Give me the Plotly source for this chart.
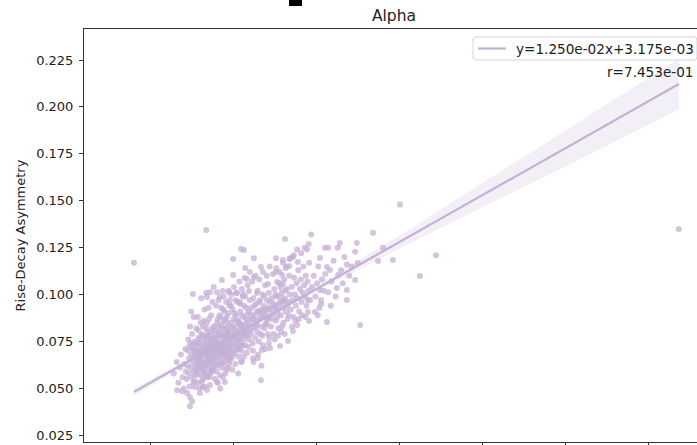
import plotly.graph_objects as go

# Alpha band: per-recording rise/decay measurements (x = band metric, y = asymmetry)
tail_pts = [
    (4.63, 0.049), (4.75, 0.0485), (4.87, 0.0475), (4.94, 0.0454), (4.99, 0.0432), (4.94, 0.0405),
    (5.06, 0.0507), (5.25, 0.0507), (5.42, 0.0518), (5.59, 0.0534), (5.78, 0.0534), (5.18, 0.0475),
    (5.35, 0.0491), (5.54, 0.055), (5.35, 0.056), (6.65, 0.0544),
    (4.55, 0.058), (4.62, 0.064), (4.66, 0.053), (4.70, 0.061), (4.72, 0.068), (4.76, 0.056),
    (4.79, 0.050), (4.80, 0.063), (4.83, 0.071), (4.84, 0.059),
]

core_left = [
    (4.86, 0.055), (4.88, 0.062), (4.89, 0.070), (4.91, 0.058), (4.92, 0.066), (4.93, 0.051),
    (4.95, 0.074), (4.96, 0.061), (4.97, 0.068), (4.98, 0.056), (4.99, 0.079), (5.00, 0.064),
    (5.01, 0.071), (5.02, 0.053), (5.03, 0.059), (5.04, 0.067), (5.05, 0.075), (5.06, 0.062),
    (5.07, 0.057), (5.08, 0.069), (5.09, 0.082), (5.10, 0.065), (4.90, 0.076), (4.94, 0.083),
    (5.03, 0.088), (4.97, 0.091), (5.08, 0.060), (4.99, 0.073), (5.05, 0.054), (4.92, 0.072),
    (5.11, 0.058), (5.12, 0.072), (5.13, 0.066), (5.14, 0.081), (5.15, 0.053), (5.16, 0.062),
    (5.17, 0.076), (5.18, 0.069), (5.19, 0.057), (5.20, 0.085), (5.21, 0.064), (5.22, 0.073),
    (5.23, 0.060), (5.24, 0.078), (5.25, 0.067), (5.26, 0.055), (5.27, 0.071), (5.28, 0.063),
    (5.29, 0.092), (5.30, 0.075), (5.31, 0.059), (5.32, 0.068), (5.33, 0.082), (5.34, 0.065),
    (5.35, 0.072), (5.36, 0.057), (5.37, 0.077), (5.38, 0.061), (5.39, 0.070), (5.40, 0.087),
    (5.41, 0.066), (5.42, 0.074), (5.43, 0.058), (5.44, 0.080), (5.45, 0.069), (5.46, 0.063),
    (5.47, 0.076), (5.48, 0.096), (5.49, 0.071), (5.50, 0.060), (5.51, 0.083), (5.52, 0.067),
    (5.53, 0.073), (5.54, 0.079),
    (5.12, 0.063), (5.14, 0.070), (5.16, 0.074), (5.18, 0.061), (5.20, 0.067), (5.22, 0.079),
    (5.24, 0.071), (5.26, 0.063), (5.28, 0.077), (5.30, 0.069), (5.32, 0.062), (5.34, 0.074),
    (5.36, 0.080), (5.38, 0.067), (5.40, 0.072), (5.42, 0.064), (5.44, 0.075), (5.46, 0.070),
    (5.48, 0.082), (5.50, 0.066), (5.52, 0.077), (5.54, 0.071), (5.13, 0.088), (5.21, 0.098),
    (5.27, 0.086), (5.33, 0.101), (5.39, 0.093), (5.45, 0.089), (5.51, 0.104), (5.17, 0.050),
    (5.23, 0.054), (5.29, 0.051), (5.41, 0.056), (5.47, 0.059), (5.53, 0.062), (5.15, 0.077),
    (5.25, 0.083), (5.35, 0.085), (5.43, 0.068), (5.49, 0.065),
    (5.01, 0.1003), (5.35, 0.0987), (5.42, 0.1013), (5.59, 0.1013), (5.73, 0.1019), (5.88, 0.1013),
]

core_dense = [
    (5.05, 0.070), (5.09, 0.074), (5.13, 0.060), (5.17, 0.066), (5.21, 0.070), (5.25, 0.061),
    (5.29, 0.072), (5.33, 0.064), (5.37, 0.069), (5.41, 0.078), (5.45, 0.060), (5.49, 0.076),
    (5.53, 0.068), (5.57, 0.064), (5.61, 0.073), (5.65, 0.079), (5.69, 0.069), (5.73, 0.063),
    (5.77, 0.074), (5.81, 0.069), (5.85, 0.076), (5.89, 0.072), (5.93, 0.076), (5.97, 0.069),
    (6.01, 0.080), (6.05, 0.074), (6.09, 0.071), (6.13, 0.077), (6.17, 0.083), (6.21, 0.073),
    (5.11, 0.068), (5.19, 0.064), (5.27, 0.058), (5.35, 0.078), (5.43, 0.071), (5.51, 0.073),
    (5.59, 0.070), (5.67, 0.072), (5.75, 0.068), (5.83, 0.078), (5.91, 0.067), (5.99, 0.078),
    (6.07, 0.086), (6.15, 0.084), (6.23, 0.080), (6.31, 0.082), (6.39, 0.081), (6.47, 0.087),
    (6.55, 0.084), (6.63, 0.090), (6.71, 0.091), (6.79, 0.088), (6.87, 0.092), (6.95, 0.095),
    (7.03, 0.093), (7.11, 0.099), (7.19, 0.097),
]

core_mid = [
    (5.55, 0.066), (5.56, 0.081), (5.57, 0.072), (5.58, 0.059), (5.59, 0.076), (5.60, 0.068),
    (5.61, 0.087), (5.62, 0.063), (5.63, 0.074), (5.64, 0.080), (5.65, 0.070), (5.66, 0.057),
    (5.67, 0.078), (5.68, 0.066), (5.69, 0.084), (5.70, 0.073), (5.71, 0.061), (5.72, 0.079),
    (5.73, 0.069), (5.74, 0.092), (5.75, 0.075), (5.76, 0.064), (5.77, 0.082), (5.78, 0.071),
    (5.79, 0.087), (5.80, 0.067), (5.81, 0.077), (5.82, 0.060), (5.83, 0.085), (5.84, 0.073),
    (5.85, 0.080), (5.86, 0.069), (5.87, 0.090), (5.88, 0.076), (5.89, 0.065), (5.90, 0.083),
    (5.56, 0.070), (5.58, 0.077), (5.60, 0.062), (5.62, 0.083), (5.64, 0.067), (5.66, 0.074),
    (5.68, 0.088), (5.70, 0.064), (5.72, 0.071), (5.74, 0.077), (5.76, 0.086), (5.78, 0.068),
    (5.80, 0.079), (5.82, 0.072), (5.84, 0.066), (5.86, 0.081), (5.88, 0.070), (5.90, 0.075),
    (5.57, 0.094), (5.63, 0.097), (5.69, 0.093), (5.75, 0.099), (5.81, 0.096), (5.87, 0.102),
    (5.61, 0.053), (5.67, 0.050), (5.73, 0.056), (5.79, 0.058), (5.85, 0.061), (5.59, 0.085),
    (5.65, 0.089), (5.71, 0.082), (5.77, 0.091), (5.83, 0.088), (5.89, 0.094), (5.55, 0.075),
    (5.64, 0.071), (5.73, 0.078), (5.82, 0.082), (5.88, 0.063),
    (5.91, 0.071), (5.93, 0.085), (5.94, 0.066), (5.96, 0.078), (5.97, 0.092), (5.99, 0.074),
    (6.00, 0.068), (6.02, 0.083), (6.03, 0.077), (6.05, 0.089), (6.06, 0.072), (6.08, 0.096),
    (6.09, 0.080), (6.11, 0.067), (6.12, 0.086), (6.14, 0.075), (6.15, 0.091), (6.17, 0.079),
    (6.18, 0.070), (6.20, 0.084), (6.21, 0.099), (6.23, 0.076), (6.24, 0.088), (6.26, 0.081),
    (6.27, 0.073), (6.29, 0.093), (6.30, 0.085), (6.32, 0.078), (6.33, 0.090), (6.35, 0.072),
    (6.36, 0.083), (6.38, 0.097), (6.39, 0.087),
    (5.92, 0.079), (5.95, 0.072), (5.98, 0.082), (6.01, 0.090), (6.04, 0.070), (6.07, 0.079),
    (6.10, 0.085), (6.13, 0.081), (6.16, 0.073), (6.19, 0.089), (6.22, 0.082), (6.25, 0.094),
    (6.28, 0.079), (6.31, 0.087), (6.34, 0.081), (6.37, 0.091), (5.94, 0.100), (6.00, 0.104),
    (6.06, 0.101), (6.13, 0.107), (6.19, 0.103), (6.26, 0.109), (6.33, 0.105), (6.38, 0.112),
    (5.96, 0.060), (6.03, 0.063), (6.10, 0.058), (6.17, 0.064), (6.24, 0.067), (6.31, 0.069),
    (5.99, 0.087), (6.08, 0.076), (6.15, 0.095), (6.21, 0.078), (6.29, 0.084), (6.36, 0.076),
    (5.93, 0.094), (6.04, 0.097), (6.12, 0.071), (6.27, 0.099),
    (5.98, 0.1189), (6.17, 0.1243), (6.24, 0.1237), (6.48, 0.1194), (6.27, 0.1141), (6.65, 0.1147),
    (5.71, 0.1077), (5.98, 0.1104), (6.31, 0.1083), (6.48, 0.1093), (6.07, 0.1008), (6.22, 0.1003),
    (6.36, 0.1019), (6.55, 0.1008), (5.66, 0.0987), (5.90, 0.0971), (6.14, 0.096), (5.33, 0.1344),
    (6.19, 0.0645), (6.46, 0.0661), (6.67, 0.0704), (6.87, 0.0715), (7.11, 0.0726), (7.30, 0.0752),
    (7.42, 0.0806), (7.52, 0.0838),
]

core_right = [
    (6.41, 0.079), (6.42, 0.093), (6.44, 0.085), (6.45, 0.074), (6.47, 0.098), (6.48, 0.082),
    (6.50, 0.089), (6.51, 0.077), (6.53, 0.095), (6.54, 0.086), (6.56, 0.080), (6.57, 0.102),
    (6.59, 0.091), (6.60, 0.075), (6.62, 0.087), (6.63, 0.097), (6.65, 0.083), (6.66, 0.092),
    (6.68, 0.078), (6.69, 0.100), (6.71, 0.088), (6.72, 0.094), (6.74, 0.082), (6.75, 0.105),
    (6.77, 0.090), (6.78, 0.085), (6.80, 0.097), (6.81, 0.079), (6.83, 0.093), (6.84, 0.101),
    (6.86, 0.088), (6.87, 0.096),
    (6.43, 0.089), (6.46, 0.070), (6.49, 0.094), (6.52, 0.083), (6.55, 0.091), (6.58, 0.068),
    (6.61, 0.096), (6.64, 0.079), (6.67, 0.088), (6.70, 0.073), (6.73, 0.099), (6.76, 0.084),
    (6.79, 0.092), (6.82, 0.087), (6.85, 0.077), (6.44, 0.107), (6.52, 0.110), (6.61, 0.108),
    (6.70, 0.112), (6.79, 0.110), (6.86, 0.115), (6.47, 0.064), (6.57, 0.066), (6.66, 0.062),
    (6.75, 0.071), (6.84, 0.074),
    (6.89, 0.083), (6.91, 0.098), (6.93, 0.090), (6.95, 0.079), (6.97, 0.103), (6.99, 0.094),
    (7.01, 0.086), (7.03, 0.099), (7.05, 0.091), (7.07, 0.082), (7.09, 0.106), (7.11, 0.096),
    (7.13, 0.089), (7.15, 0.101), (7.17, 0.093), (7.19, 0.085), (7.21, 0.108), (7.23, 0.098),
    (7.25, 0.091), (7.27, 0.103), (7.29, 0.087), (7.31, 0.096), (7.33, 0.110), (7.35, 0.100),
    (6.92, 0.087), (6.96, 0.093), (7.00, 0.100), (7.04, 0.088), (7.08, 0.095), (7.12, 0.104),
    (7.16, 0.083), (7.20, 0.096), (7.24, 0.102), (7.28, 0.094), (7.32, 0.089), (6.94, 0.111),
    (7.02, 0.114), (7.10, 0.112), (7.18, 0.117), (7.26, 0.115), (7.34, 0.119), (6.98, 0.076),
    (7.06, 0.078), (7.14, 0.080), (7.22, 0.079),
    (7.01, 0.1194), (7.18, 0.1184), (7.35, 0.1194), (7.42, 0.120), (7.54, 0.1173), (7.25, 0.1141),
    (7.33, 0.1152), (7.01, 0.112), (7.16, 0.1104), (6.82, 0.1056), (7.04, 0.1067), (7.18, 0.1056),
    (7.23, 0.1296),
]

upper_pts = [
    (7.37, 0.092), (7.39, 0.104), (7.41, 0.097), (7.43, 0.088), (7.45, 0.109), (7.47, 0.100),
    (7.49, 0.094), (7.51, 0.106), (7.53, 0.098), (7.55, 0.113), (7.57, 0.091), (7.59, 0.103),
    (7.61, 0.108), (7.63, 0.096), (7.65, 0.101), (7.67, 0.115), (7.69, 0.105), (7.71, 0.099),
    (7.73, 0.110), (7.75, 0.094), (7.77, 0.107), (7.79, 0.102), (7.81, 0.117), (7.83, 0.097),
    (7.40, 0.083), (7.48, 0.086), (7.56, 0.087), (7.64, 0.089), (7.72, 0.088), (7.44, 0.121),
    (7.52, 0.124), (7.62, 0.122), (7.70, 0.125), (7.80, 0.127),
    (7.88, 0.104), (7.92, 0.110), (7.96, 0.099), (8.00, 0.106), (8.03, 0.115), (8.06, 0.093),
    (8.12, 0.108), (8.16, 0.102), (8.20, 0.111), (8.35, 0.107), (8.40, 0.118), (8.45, 0.099),
    (8.58, 0.113), (8.62, 0.106), (8.66, 0.120), (8.78, 0.110), (8.02, 0.089), (8.33, 0.094),
    (7.86, 0.132), (9.35, 0.133), (8.55, 0.1275), (8.96, 0.1275), (8.19, 0.125), (8.27, 0.125),
    (8.50, 0.125), (7.76, 0.124), (8.07, 0.1195), (8.92, 0.1228), (9.59, 0.125), (9.47, 0.1179),
    (9.83, 0.1184), (10.87, 0.121), (10.48, 0.1099), (8.72, 0.116), (8.84, 0.115), (8.98, 0.1168),
    (8.24, 0.1147), (8.31, 0.1131), (8.51, 0.1104), (8.92, 0.1077), (8.48, 0.1035), (8.72, 0.1024),
    (8.07, 0.1024), (8.27, 0.1013), (8.72, 0.0971), (8.10, 0.0971), (8.10, 0.095), (7.78, 0.0971),
    (7.95, 0.0907), (7.78, 0.0907), (7.81, 0.0859), (8.24, 0.0854), (9.04, 0.0838), (10.0, 0.148),
]

outlier_pts = [(3.59, 0.117), (16.72, 0.135)]

# Fitted line (from the stated fit) and its confidence band half-widths
slope = 1.250e-02
intercept = 3.175e-03
r_value = 7.453e-01
band_x = [3.59, 5.0, 6.3, 8.0, 10.0, 12.0, 14.0, 16.72]
band_hw = [0.0022, 0.0010, 0.0007, 0.0016, 0.0035, 0.0065, 0.0098, 0.0135]

y_ticks = [0.025, 0.050, 0.075, 0.100, 0.125, 0.150, 0.175, 0.200, 0.225]
x_ticks = [4, 6, 8, 10, 12, 14, 16]

all_pts = tail_pts + core_left + core_dense + core_mid + core_right + upper_pts + outlier_pts
xs = [p[0] for p in all_pts]
ys = [p[1] for p in all_pts]

base = "197,176,213"
FONT = "DejaVu Sans"
TEXT = "#222"

fig = go.Figure()

band_upper = [intercept + slope * bx + h for bx, h in zip(band_x, band_hw)]
band_lower = [intercept + slope * bx - h for bx, h in zip(band_x, band_hw)]
fig.add_trace(go.Scatter(
    x=band_x + band_x[::-1], y=band_upper + band_lower[::-1],
    fill="toself", fillcolor=f"rgba({base},0.2)", line=dict(width=0),
    hoverinfo="skip", showlegend=False, mode="lines",
))

fig.add_trace(go.Scatter(
    x=xs, y=ys, mode="markers",
    marker=dict(size=6, color=f"rgba({base},0.74)", line=dict(width=0)),
    showlegend=False,
))

fit_label = f"y={slope:.3e}x+{intercept:.3e}"
line_x = [min(xs), max(xs)]
line_y = [intercept + slope * lx for lx in line_x]
fig.add_trace(go.Scatter(
    x=line_x, y=line_y, mode="lines",
    line=dict(color=f"rgb({base})", width=2.2),
    name=fit_label, showlegend=False,
))

# Legend box drawn in pixel-based paper coordinates (plot area: 84..697 x, 29..442 y)
PW, PH, L, B = 613.0, 413.0, 84.0, 442.0
def px(x):
    return (x - L) / PW
def py(y):
    return (B - y) / PH

lx0, lx1, ly0, ly1, rad = 473.0, 697.0, 37.0, 60.0, 3.0
legend_path = (
    f"M {px(lx0 + rad)},{py(ly0)} L {px(lx1 - rad)},{py(ly0)} "
    f"Q {px(lx1)},{py(ly0)} {px(lx1)},{py(ly0 + rad)} "
    f"L {px(lx1)},{py(ly1 - rad)} Q {px(lx1)},{py(ly1)} {px(lx1 - rad)},{py(ly1)} "
    f"L {px(lx0 + rad)},{py(ly1)} Q {px(lx0)},{py(ly1)} {px(lx0)},{py(ly1 - rad)} "
    f"L {px(lx0)},{py(ly0 + rad)} Q {px(lx0)},{py(ly0)} {px(lx0 + rad)},{py(ly0)} Z"
)

fig.update_layout(
    width=697, height=445,
    margin=dict(l=84, r=0, t=29, b=3),
    paper_bgcolor="white", plot_bgcolor="white",
    font=dict(family=FONT, size=13, color=TEXT),
    title=dict(text="Alpha", x=0.5057, xref="paper", xanchor="center",
               y=0.966, yref="container", yanchor="middle",
               font=dict(family=FONT, size=15.5, color=TEXT)),
    showlegend=False,
    xaxis=dict(range=[2.386, 17.157], tickvals=x_ticks, showticklabels=False,
               ticks="outside", ticklen=4, tickcolor="#333", tickwidth=1,
               showline=True, linecolor="#333", linewidth=1, mirror=True,
               showgrid=False, zeroline=False, automargin=False),
    yaxis=dict(range=[0.02143, 0.24153], tickvals=y_ticks, tickformat=".3f",
               ticks="outside", ticklen=4, tickcolor="#333", tickwidth=1,
               ticklabelstandoff=3,
               showline=True, linecolor="#333", linewidth=1, mirror=False,
               showgrid=False, zeroline=False, automargin=False),
    annotations=[
        dict(text="Rise-Decay Asymmetry", textangle=-90, xref="paper", yref="paper",
             x=-0.1044, y=0.5, xanchor="center", yanchor="middle", showarrow=False,
             font=dict(family=FONT, size=13, color=TEXT)),
        dict(text=fit_label, xref="paper", yref="paper",
             x=px(514), y=py(48.5), xanchor="left", yanchor="middle", showarrow=False,
             font=dict(family=FONT, size=13.6, color=TEXT)),
        dict(text=f"r={r_value:.3e}", xref="paper", yref="paper",
             x=px(695), y=py(72), xanchor="right", yanchor="middle", showarrow=False,
             font=dict(family=FONT, size=13.6, color=TEXT)),
    ],
    shapes=[
        dict(type="path", xref="paper", yref="paper", path=legend_path,
             fillcolor="rgba(255,255,255,0.8)", line=dict(color="#d4d4d4", width=1)),
        dict(type="line", xref="paper", yref="paper", x0=px(478), x1=px(506),
             y0=py(48.5), y1=py(48.5), line=dict(color=f"rgb({base})", width=2.2)),
        dict(type="rect", xref="paper", yref="paper", x0=px(289), x1=px(302),
             y0=py(6), y1=py(0), fillcolor="black", line=dict(width=0)),
    ],
)

fig.write_html("out.html")
